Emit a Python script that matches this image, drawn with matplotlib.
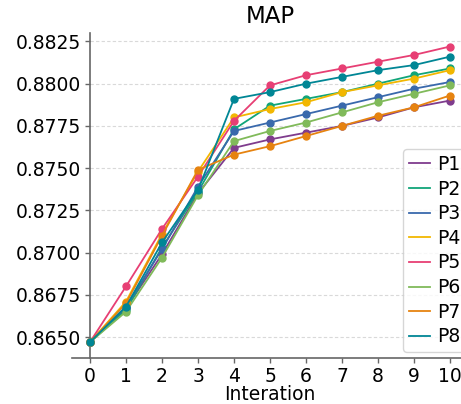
import matplotlib
matplotlib.use("Agg")
import matplotlib.pyplot as plt
import numpy as np

iterations = list(range(11))
series_names = ["P1", "P2", "P3", "P4", "P5", "P6", "P7", "P8"]
P1 = [0.8647, 0.8667, 0.8699, 0.8735, 0.8762, 0.8767, 0.8771, 0.8775, 0.8780, 0.8786, 0.8790]
P2 = [0.8647, 0.8666, 0.8703, 0.8736, 0.8773, 0.8787, 0.8791, 0.8795, 0.8800, 0.8805, 0.8809]
P3 = [0.8647, 0.8668, 0.8702, 0.8739, 0.8772, 0.8777, 0.8782, 0.8787, 0.8792, 0.8797, 0.8801]
P4 = [0.8647, 0.8671, 0.8711, 0.8748, 0.8780, 0.8785, 0.8789, 0.8795, 0.8799, 0.8803, 0.8808]
P5 = [0.8647, 0.8680, 0.8714, 0.8745, 0.8778, 0.8799, 0.8805, 0.8809, 0.8813, 0.8817, 0.8822]
P6 = [0.8647, 0.8665, 0.8697, 0.8734, 0.8766, 0.8772, 0.8777, 0.8783, 0.8789, 0.8794, 0.8799]
P7 = [0.8647, 0.8670, 0.8710, 0.8749, 0.8758, 0.8763, 0.8769, 0.8775, 0.8781, 0.8786, 0.8793]
P8 = [0.8647, 0.8668, 0.8706, 0.8737, 0.8791, 0.8795, 0.8800, 0.8804, 0.8808, 0.8811, 0.8816]
series_values = [P1, P2, P3, P4, P5, P6, P7, P8]
yticks = [0.8650, 0.8675, 0.8700, 0.8725, 0.8750, 0.8775, 0.8800, 0.8825]

colors = ['#7F3C8D', '#11A579', '#3969AC', '#F2B701', '#E73F74', '#80BA5A', '#E68310', '#008695']

fig = plt.figure(figsize=(4.61, 4.04), dpi=100)
ax = fig.add_axes([72/461, 46/404, 396/461, 325/404])

handles = []
for name, vals, c in zip(series_names, series_values, colors):
    h, = ax.plot(iterations, vals, color=c, lw=1.3, label=name, zorder=3)
    ax.plot(iterations, vals, color=c, lw=0, marker='o', ms=5, zorder=3)
    handles.append(h)

ax.set_xlim(-0.5, 10.5)
ax.set_ylim(0.86376, 0.8830)
ax.set_xticks(iterations)
ax.set_yticks(yticks)
ax.set_yticklabels([f"{v:.4f}" for v in yticks])
ax.hlines(yticks, 0, 10.5, colors='#d9d9d9', linestyles=(0, (3, 2)), lw=0.8, zorder=0)

for s in ['top', 'right']:
    ax.spines[s].set_visible(False)
ax.spines['left'].set_position(('data', 0))
for s in ['left', 'bottom']:
    ax.spines[s].set_color('#666666')
    ax.spines[s].set_linewidth(1.2)
ax.tick_params(axis='both', labelsize=13.5, color='#666666', length=3.5, width=1.0, pad=3)

ax.set_title("MAP", fontsize=16.5, pad=7)
ax.set_xlabel("Interation", fontsize=13.5, labelpad=-1)

leg = ax.legend(handles=handles, loc='lower right', bbox_to_anchor=(466/461, 1 - 352/404),
                bbox_transform=fig.transFigure, borderaxespad=0, fontsize=13.5,
                handlelength=1.1, handletextpad=0.4, labelspacing=0.3, borderpad=0.3,
                frameon=True, fancybox=True)
leg.get_frame().set_edgecolor('#cccccc')

fig.savefig("out.png", dpi=100)
